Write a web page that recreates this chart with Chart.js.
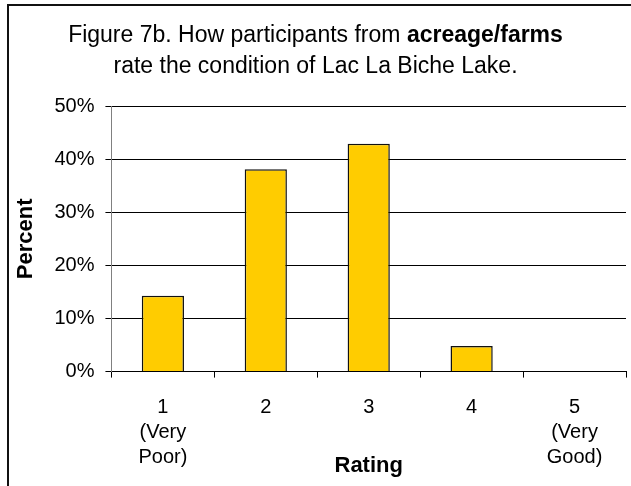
<!DOCTYPE html>
<html>
<head>
<meta charset="utf-8">
<title>Figure 7b</title>
<script src="https://cdn.jsdelivr.net/npm/chart.js@4.4.1/dist/chart.umd.min.js"></script>
<style>
  body { margin: 0; background: #fff; overflow: hidden; }
  #wrap { position: relative; width: 631px; height: 486px; }
  #frame {
    position: absolute; left: 7px; top: 4px; width: 700px; height: 600px;
    border-left: 2px solid #111; border-top: 2px solid #111;
  }
  #chartTitle {
    position: absolute; left: 0; top: 19px; width: 631px;
    text-align: center; font-family: "Liberation Sans", Arial, sans-serif;
    font-size: 23px; line-height: 31px; color: #000;
  }
  canvas { position: absolute; left: 0; top: 0; }
</style>
</head>
<body>
<div id="wrap">
  <canvas id="ratingChart" width="631" height="486"></canvas>
  <div id="frame"></div>
  <div id="chartTitle">Figure 7b. How participants from <b>acreage/farms</b><br>rate the condition of Lac La Biche Lake.</div>
</div>
<script>
// Chart data
const ratingLabels = [['1', '(Very', 'Poor)'], ['2'], ['3'], ['4'], ['5', '(Very', 'Good)']];
const percentValues = [14.3, 38.1, 42.9, 4.8, 0];
const percentTicks = [0, 10, 20, 30, 40, 50];

const FONT = '"Liberation Sans", Arial, sans-serif';

const ctx = document.getElementById('ratingChart').getContext('2d');
const ratingChart = new Chart(ctx, {
  type: 'bar',
  data: {
    labels: ratingLabels,
    datasets: [{
      label: 'Percent',
      data: percentValues,
      backgroundColor: '#FFCC00',
      borderColor: '#111',
      borderWidth: 1.5,
      barPercentage: 0.41,
      categoryPercentage: 1
    }]
  },
  options: {
    responsive: false,
    animation: false,
    devicePixelRatio: 1,
    layout: {
      padding: { top: 106, right: 5, bottom: 0, left: 8 }
    },
    plugins: {
      legend: { display: false },
      tooltip: { enabled: false }
    },
    scales: {
      x: {
        border: { color: '#000', width: 1 },
        grid: { drawOnChartArea: false, drawTicks: true, tickLength: 6, color: '#000', offset: true },
        ticks: {
          color: '#000',
          padding: 17,
          maxRotation: 0,
          autoSkip: false,
          font: { family: FONT, size: 20, lineHeight: 1.25 }
        },
        title: {
          display: true,
          text: 'Rating',
          color: '#000',
          // pulled up so the title sits between the wrapped labels
          padding: { top: -34, bottom: 7 },
          font: { family: FONT, size: 22, weight: 'bold' }
        }
      },
      y: {
        min: percentTicks[0],
        max: percentTicks[percentTicks.length - 1],
        afterBuildTicks: scale => {
          scale.ticks = percentTicks.map(v => ({ value: v }));
        },
        border: { color: '#808080', width: 1 },
        grid: { color: '#000', tickColor: '#000', tickLength: 6 },
        ticks: {
          color: '#000',
          padding: 11,
          font: { family: FONT, size: 20 },
          callback: value => value + '%'
        },
        title: {
          display: true,
          text: 'Percent',
          color: '#000',
          padding: { top: 5, bottom: 4 },
          font: { family: FONT, size: 22, weight: 'bold' }
        }
      }
    }
  }
});
</script>
</body>
</html>
